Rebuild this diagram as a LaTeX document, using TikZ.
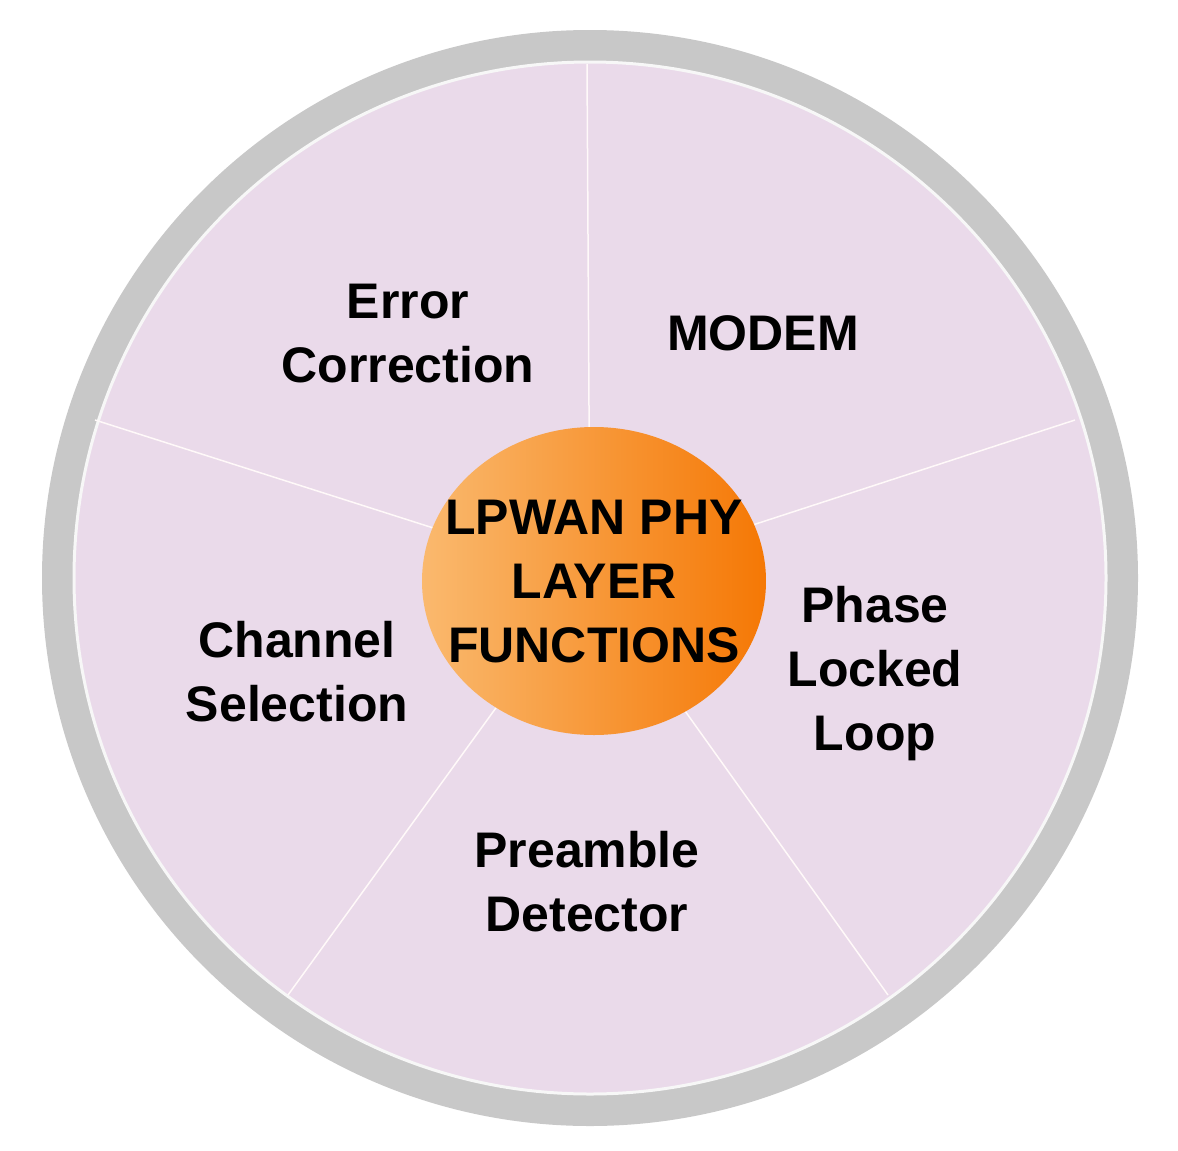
\documentclass[tikz,border=0pt]{standalone}
\usetikzlibrary{shapes.geometric}
\usepackage{fontspec}
\setmainfont{Liberation Sans}
\begin{document}
\begin{tikzpicture}[x=1pt,y=-1pt,
  lbl/.style={font=\fontsize{50}{64}\selectfont\bfseries,align=center,text=black},
  div/.style={draw=white!90!pink,line width=1.5pt}]
\definecolor{ring}{RGB}{200,200,200}
\definecolor{disk}{RGB}{234,218,234}
\definecolor{orl}{RGB}{250,185,110}
\definecolor{ord}{RGB}{245,120,5}
\useasboundingbox (0,0) rectangle (1178,1151);
\fill[white] (0,0) rectangle (1178,1151);
\coordinate (c) at (590,578);
\fill[ring] (c) circle (548);
\fill[disk] (c) circle (516);
\draw[white!85!ring,line width=3pt] (c) circle (516);
\coordinate (t) at (587,64);
\coordinate (ur) at (1075,420);
\coordinate (lr) at (888,995);
\coordinate (ll) at (288,995);
\coordinate (ul) at (95,420);
\foreach \p in {t,ur,lr,ll,ul}{\draw[div] (c) -- (\p);}
\node[ellipse,minimum width=344pt,minimum height=308pt,left color=orl,right color=ord,inner sep=0pt] (o) at (594,581) {};
\node[lbl] (ctr) at (594,582) {LPWAN PHY\\LAYER\\FUNCTIONS};
\node[lbl] (ec) at (408,334) {Error\\Correction};
\node[lbl] (mo) at (763,333) {MODEM};
\node[lbl] (cs) at (297,672) {Channel\\Selection};
\node[lbl] (pl) at (875,674) {Phase\\Locked\\Loop};
\node[lbl] (pd) at (587,882) {Preamble\\Detector};
\end{tikzpicture}
\end{document}
